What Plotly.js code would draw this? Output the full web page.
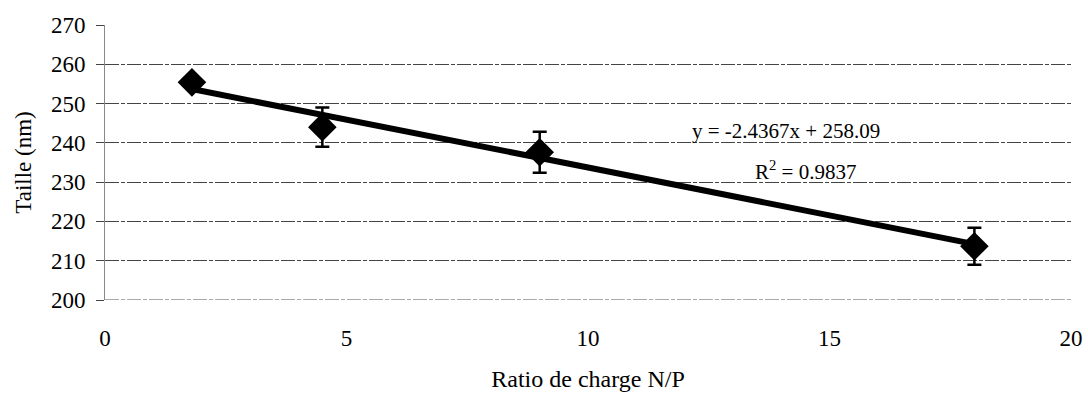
<!DOCTYPE html>
<html>
<head>
<meta charset="utf-8">
<script src="https://cdn.plot.ly/plotly-3.0.1.min.js"></script>
<style>html,body{margin:0;padding:0;background:#fff;}#chart{width:1088px;height:395px;}</style>
</head>
<body>
<div id="chart"></div>
<script>
const ratioNP = [1.8, 4.5, 9, 18];
const taille = [255.4, 244, 237.6, 213.7];
const erreur = [1.2, 5, 5.2, 4.7];
const slope = -2.4367;
const intercept = 258.09;
const eqText = "y = -2.4367x + 258.09";
const r2Text = "R<sup>2</sup> = 0.9837";
const yTicks = [200, 210, 220, 230, 240, 250, 260, 270];
const xTicks = [0, 5, 10, 15, 20];

const xMin = Math.min(...ratioNP), xMax = Math.max(...ratioNP);
const trendX = [xMin, xMax];
const trendY = trendX.map(x => slope * x + intercept);

const fam = "'Liberation Serif', 'Times New Roman', serif";
const f = s => ({family: fam, color: "#000", size: s});

const data = [
  {
    x: trendX, y: trendY, mode: "lines", type: "scatter",
    line: {color: "#000", width: 6}, hoverinfo: "skip", showlegend: false
  },
  {
    x: ratioNP, y: taille, mode: "markers", type: "scatter",
    marker: {symbol: "diamond", size: 22, color: "#000"},
    error_y: {type: "data", array: erreur, visible: true, color: "#000", thickness: 2.5, width: 7},
    showlegend: false
  }
];

const gridStyle = {color: "#555", width: 1, dash: "14px,2px,4px,2px"};

const layout = {
  width: 1088, height: 395,
  margin: {l: 105, r: 17, t: 25, b: 95},
  paper_bgcolor: "#fff", plot_bgcolor: "#fff",
  font: f(23),
  xaxis: {
    range: [0, 20], tickvals: xTicks, ticktext: xTicks.map(String),
    showgrid: false, zeroline: false, showline: false, ticks: "",
    ticklabelstandoff: 22,
    tickfont: f(23),
    title: {text: "Ratio de charge N/P", font: f(24), standoff: 20}
  },
  yaxis: {
    range: [200, 270], tickvals: yTicks, ticktext: yTicks.map(String),
    showgrid: true, gridcolor: "#444", gridwidth: 1, griddash: "14px,2px,4px,2px",
    zeroline: false, showline: true, linecolor: "#888", linewidth: 1,
    ticks: "outside", ticklen: 8, tickcolor: "#444",
    tickfont: f(23),
    ticklabelstandoff: 6,
    title: {text: "Taille (nm)", font: f(23), standoff: 12}
  },
  shapes: [
    {type: "line", xref: "paper", x0: 0, x1: 1, yref: "y", y0: yTicks[0], y1: yTicks[0], line: gridStyle, layer: "below"}
  ],
  annotations: [
    {x: 14.1, y: 243.0, xref: "x", yref: "y", text: eqText, showarrow: false,
     font: f(21), xanchor: "center", yanchor: "middle"},
    {x: 14.5, y: 233.0, xref: "x", yref: "y", text: r2Text, showarrow: false,
     font: f(21), xanchor: "center", yanchor: "middle"}
  ]
};

Plotly.newPlot("chart", data, layout, {displayModeBar: false, staticPlot: true});
</script>
</body>
</html>
